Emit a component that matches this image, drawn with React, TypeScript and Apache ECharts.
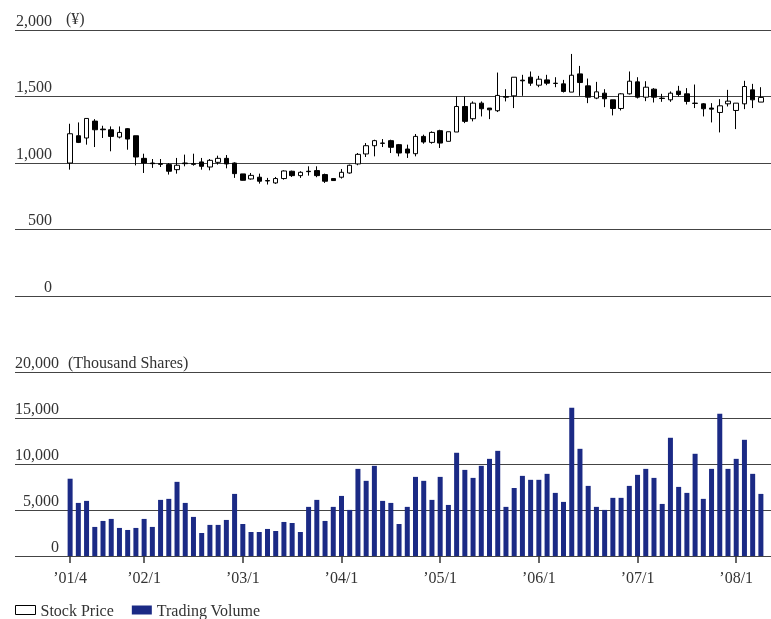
import React, { useEffect, useRef } from "react";
import * as echarts from "echarts";

const FONT = "'Liberation Serif', 'DejaVu Serif', serif";
const TEXT = "#333";
const NAVY = "#1b2a85";

// Months '01/4 .. '08/4
const months: string[] = [];
for (let y = 1; y <= 8; y++) {
  for (let m = 1; m <= 12; m++) {
    if (y === 1 && m < 4) continue;
    if (y === 8 && m > 4) continue;
    months.push(`\u2019${String(y).padStart(2, "0")}/${m}`);
  }
}
const tickLabels = ["\u201901/4", "\u201902/1", "\u201903/1", "\u201904/1", "\u201905/1", "\u201906/1", "\u201907/1", "\u201908/1"];

const openP = [1000,1205,1188,1315,1255,1250,1195,1258,1205,1035,1000,995,988,950,1000,995,1008,970,1005,1035,1000,918,880,893,868,850,883,938,905,938,943,913,883,893,925,993,1068,1130,1150,1168,1138,1105,1070,1200,1155,1243,1163,1233,1425,1333,1450,1413,1393,1500,1505,1623,1645,1585,1625,1600,1595,1533,1670,1580,1488,1525,1475,1410,1520,1610,1495,1555,1488,1475,1540,1520,1450,1445,1413,1380,1445,1395,1445,1550,1458];
const closeP = [1220,1155,1335,1250,1250,1200,1230,1180,1045,1000,995,990,938,983,995,990,975,1020,1035,993,920,870,907,863,865,883,940,905,930,935,905,863,868,930,983,1065,1130,1168,1148,1118,1075,1075,1200,1158,1230,1150,1235,1425,1313,1450,1408,1400,1508,1495,1645,1618,1600,1630,1600,1598,1538,1660,1605,1495,1535,1483,1410,1520,1615,1495,1570,1495,1485,1525,1515,1463,1448,1408,1405,1430,1465,1450,1575,1475,1493];
const lowP = [950,1150,1138,1120,1188,1088,1185,1100,982,925,963,970,913,920,975,980,950,945,988,960,888,868,875,845,838,843,875,895,888,905,893,850,865,883,920,983,1045,1050,1120,1075,1050,1038,1050,1145,1145,1113,1163,1233,1300,1313,1350,1330,1383,1463,1413,1505,1580,1570,1585,1570,1530,1533,1505,1450,1480,1420,1358,1395,1515,1485,1465,1455,1460,1460,1500,1440,1413,1350,1305,1230,1425,1255,1405,1413,1458];
const highP = [1295,1305,1335,1330,1280,1275,1275,1263,1205,1070,1030,1030,1000,1038,1063,1070,1038,1030,1055,1060,1005,918,925,920,888,895,945,943,938,975,975,920,885,955,988,1075,1150,1175,1180,1175,1143,1138,1218,1213,1238,1250,1235,1500,1500,1463,1463,1413,1680,1555,1645,1663,1688,1655,1663,1645,1625,1820,1730,1635,1610,1555,1475,1525,1688,1645,1615,1563,1520,1538,1580,1563,1590,1450,1450,1480,1550,1450,1618,1595,1570];
const volume = [8400,5770,5990,3160,3810,4030,3050,2830,3050,4030,3160,6100,6210,8060,5770,4250,2500,3380,3380,3920,6750,3480,2610,2610,2940,2720,3700,3590,2610,5340,6100,3810,5340,6530,5010,9470,8170,9800,5990,5770,3480,5340,8600,8170,6100,8600,5550,11220,9360,8490,9800,10560,11430,5340,7400,8710,8280,8280,8930,6860,5880,16120,11650,7620,5340,5010,6320,6320,7620,8820,9470,8490,5660,12850,7510,6860,11110,6210,9470,15460,9470,10560,12630,8930,6750];

export default function App() {
  const ref = useRef<HTMLDivElement>(null);
  useEffect(() => {
    if (!ref.current) return;
    const chart = echarts.init(ref.current, undefined, { renderer: "svg" });
    const candles = openP.map((o, i) => [o, closeP[i], lowP[i], highP[i]]);
    const showTick = (_i: number, v: string) => tickLabels.includes(v);
    const labelStyle = { fontSize: 16, fontFamily: FONT, color: TEXT };
    const split = { show: true, lineStyle: { color: "#444", width: 1 } };
    chart.setOption({
      animation: false,
      textStyle: { fontFamily: FONT },
      grid: [
        { left: 15, right: 0, top: 30, height: 266 },
        { left: 66, width: 699, top: 30, height: 266 },
        { left: 15, right: 0, top: 372, height: 184 },
        { left: 66, width: 699, top: 372, height: 184 },
      ],
      xAxis: [
        { type: "value", gridIndex: 0, show: false, min: 0, max: 1 },
        { type: "category", gridIndex: 1, data: months, show: false, boundaryGap: true },
        { type: "value", gridIndex: 2, show: false, min: 0, max: 1 },
        {
          type: "category", gridIndex: 3, data: months, boundaryGap: true,
          axisLine: { show: false },
          axisTick: { show: true, alignWithLabel: true, interval: showTick, length: 7, lineStyle: { color: "#333", width: 1.5 } },
          axisLabel: { ...labelStyle, interval: showTick, margin: 13 },
          splitLine: { show: false },
        },
      ],
      yAxis: [
        {
          type: "value", gridIndex: 0, min: 0, max: 2000, interval: 500,
          axisLine: { show: false }, axisTick: { show: false }, splitLine: split,
          axisLabel: { ...labelStyle, inside: true, align: "right", verticalAlign: "bottom", margin: 37, lineHeight: 20,
            formatter: (v: number) => v.toLocaleString("en-US") },
        },
        { type: "value", gridIndex: 1, min: 0, max: 2000, show: false },
        {
          type: "value", gridIndex: 2, min: 0, max: 20000, interval: 5000,
          axisLine: { show: false }, axisTick: { show: false }, splitLine: split,
          axisLabel: { ...labelStyle, inside: true, align: "right", verticalAlign: "bottom", margin: 44, lineHeight: 20,
            formatter: (v: number) => v.toLocaleString("en-US") },
        },
        { type: "value", gridIndex: 3, min: 0, max: 20000, show: false },
      ],
      legend: {
        left: 15, top: 602, padding: 0, itemWidth: 20, itemHeight: 9, itemGap: 18, selectedMode: false,
        textStyle: { fontSize: 16, fontFamily: FONT, color: TEXT },
        data: [
          { name: "Stock Price", icon: "rect", itemStyle: { color: "#fff", borderColor: "#000", borderWidth: 1 } },
          { name: "Trading Volume", icon: "rect", itemStyle: { color: NAVY } },
        ],
      },
      graphic: [
        { type: "text", left: 66, top: 10, style: { text: "(\u00a5)", fontSize: 16, fontFamily: FONT, fill: TEXT } },
        { type: "text", left: 68, top: 354, style: { text: "(Thousand Shares)", fontSize: 16, fontFamily: FONT, fill: TEXT } },
      ],
      series: [
        {
          name: "Stock Price", type: "candlestick", xAxisIndex: 1, yAxisIndex: 1, data: candles, barWidth: 5,
          itemStyle: { color: "#fff", color0: "#000", borderColor: "#000", borderColor0: "#000", borderWidth: 1 },
        },
        {
          name: "Trading Volume", type: "bar", xAxisIndex: 3, yAxisIndex: 3, data: volume, barWidth: 5,
          itemStyle: { color: NAVY },
        },
      ],
    });
    return () => chart.dispose();
  }, []);
  return <div ref={ref} style={{ position: "fixed", left: 0, top: 0, width: 771, height: 619 }} />;
}
